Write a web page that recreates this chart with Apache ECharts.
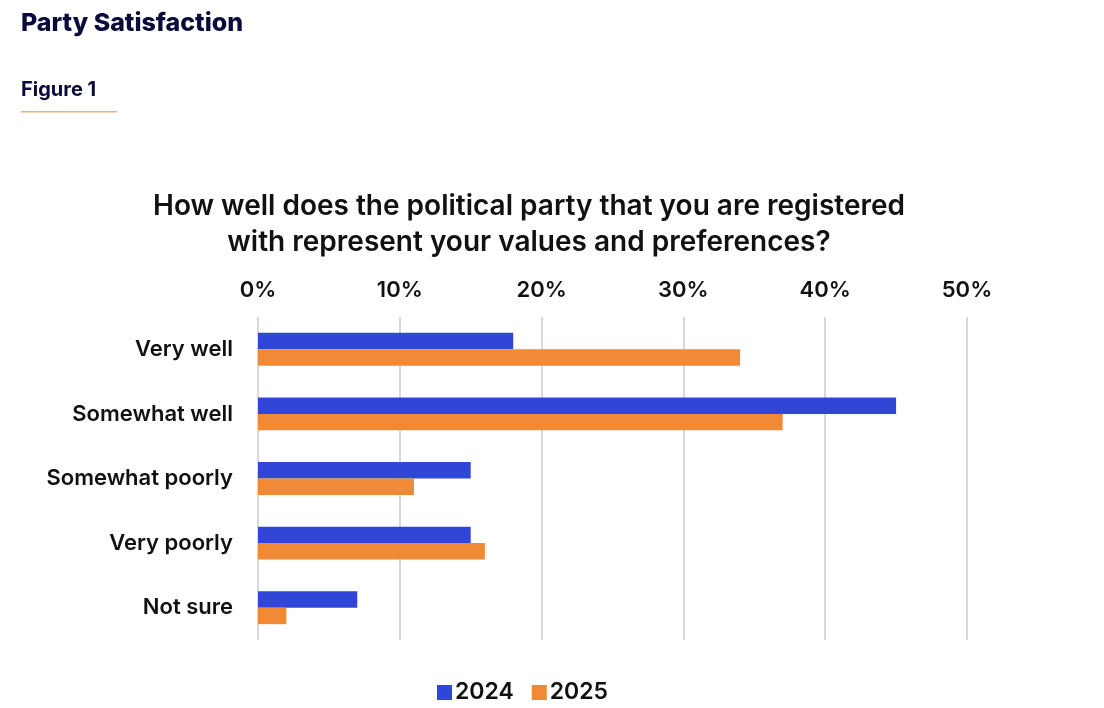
<!DOCTYPE html>
<html>
<head>
<meta charset="utf-8">
<script src="https://cdn.jsdelivr.net/npm/echarts@6/dist/echarts.min.js"></script>
<style>
html,body{margin:0;padding:0;background:#fff;}
#c{width:1104px;height:708px;}
</style>
</head>
<body>
<div id="c"></div>
<script>
const categories = ['Very well', 'Somewhat well', 'Somewhat poorly', 'Very poorly', 'Not sure'];
const values2024 = [18, 45, 15, 15, 7];
const values2025 = [34, 37, 11, 16, 2];
const seriesNames = ['2024', '2025'];
const xTicks = [0, 10, 20, 30, 40, 50];

const FONT = 'Inter';
const chart = echarts.init(document.getElementById('c'));
chart.setOption({
  backgroundColor: '#fff',
  animation: false,
  title: [
    { text: 'Party Satisfaction', left: 16, top: 6,
      textStyle: { fontFamily: FONT, fontSize: 25, fontWeight: 800, color: '#0b0b3b' } },
    { text: 'Figure 1', left: 16, top: 75,
      textStyle: { fontFamily: FONT, fontSize: 20, fontWeight: 700, color: '#0b0b3b' } },
    { text: 'How well does the political party that you are registered\nwith represent your values and preferences?',
      left: 524, top: 184, textAlign: 'center',
      textStyle: { fontFamily: FONT, fontSize: 28, fontWeight: 600, color: '#111', lineHeight: 36 } }
  ],
  graphic: [
    { type: 'rect', shape: { x: 21, y: 111, width: 96, height: 1.5 }, style: { fill: '#eab36f' } }
  ],
  legend: {
    data: seriesNames, bottom: -1, left: 432, itemWidth: 15, itemHeight: 15, itemGap: 18,
    icon: 'rect',
    textStyle: { fontFamily: FONT, fontSize: 23, fontWeight: 600, color: '#111', padding: [0, 0, 0, -2] }
  },
  grid: { left: 258, right: 137, top: 317, bottom: 68 },
  xAxis: {
    type: 'value', position: 'top', min: 0, max: 50, interval: 10,
    axisLine: { show: false }, axisTick: { show: false },
    axisLabel: { formatter: v => xTicks.includes(v) ? v + '%' : '', fontFamily: FONT, fontSize: 22, fontWeight: 600, color: '#111', margin: 16 },
    splitLine: { show: true, lineStyle: { color: '#d9d9d9', width: 2 } }
  },
  yAxis: {
    type: 'category', data: categories, inverse: true,
    axisLine: { show: false }, axisTick: { show: false },
    axisLabel: { fontFamily: FONT, fontSize: 22, fontWeight: 600, color: '#111', margin: 25 }
  },
  series: [
    { name: seriesNames[0], type: 'bar', data: values2024, barGap: '0%', barCategoryGap: '49%',
      itemStyle: { color: '#3046d6' } },
    { name: seriesNames[1], type: 'bar', data: values2025, barGap: '0%', barCategoryGap: '49%',
      itemStyle: { color: '#f08a37' } }
  ]
});
</script>
</body>
</html>
